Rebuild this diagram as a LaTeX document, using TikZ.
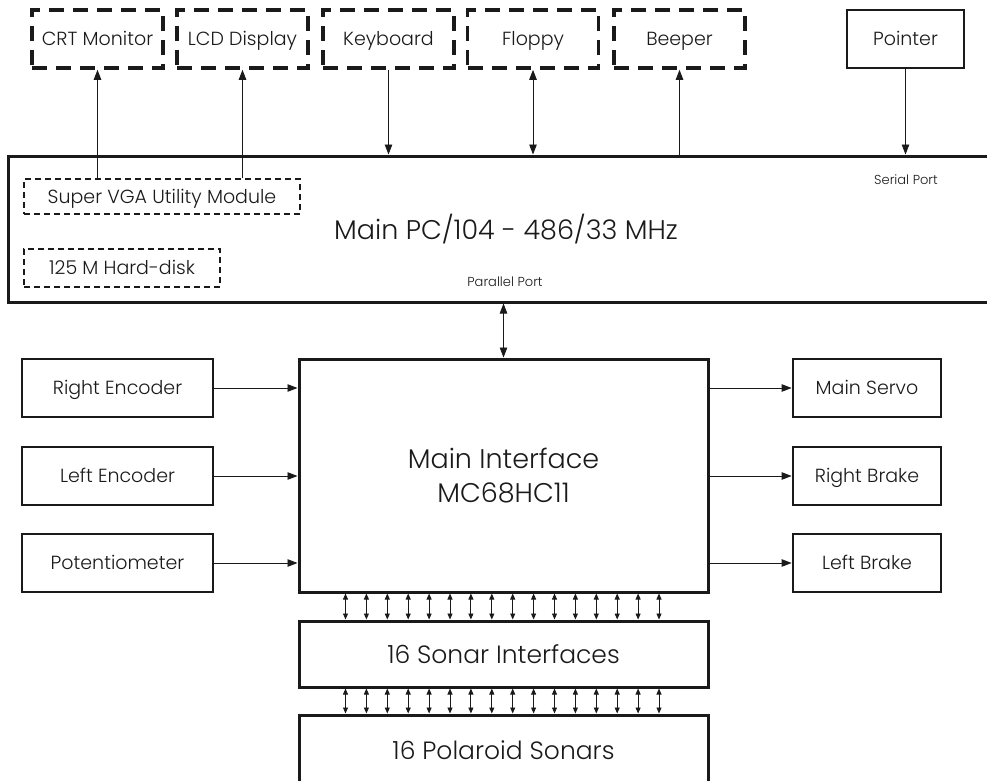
\documentclass[tikz,border=0pt]{standalone}
\usepackage{fontspec}
\setmainfont{Poppins}[UprightFont=* Light]
\usetikzlibrary{arrows.meta,calc}
\definecolor{ink}{HTML}{1A1A1A}

\begin{document}
\begin{tikzpicture}[
  x=1pt, y=-1pt, >={Triangle[length=10pt,width=7.5pt]},
  every node/.append style={text=ink, inner sep=0pt},
  blk/.style={draw=ink, line width=2.8pt, align=center, text height=13pt, text depth=0pt,
    font=\fontsize{19}{23}\selectfont},
  big/.style={draw=ink, line width=3pt, align=center, font=\fontsize{27}{34}\selectfont},
  ext/.style={draw=ink, line width=3.6pt, dash pattern=on 15pt off 9pt, align=center,
    text height=13pt, text depth=0pt, minimum width=131pt, minimum height=58pt,
    font=\fontsize{19}{23}\selectfont},
  card/.style={draw=ink, line width=1.5pt, dash pattern=on 6pt off 4pt, align=center,
    text height=13pt, text depth=0pt, font=\fontsize{19}{23}\selectfont},
  port/.style={font=\fontsize{13}{16}\selectfont},
  wire/.style={draw=ink, line width=0.9pt},
  bus/.style={draw=ink, line width=0.9pt, {Triangle[length=6pt,width=5pt]}-{Triangle[length=6pt,width=5pt]}},
]
\useasboundingbox (0,0) rectangle (987,780);
% peripherals
\node[ext] (crt) at (97.5,39) {CRT Monitor};
\node[ext] (lcd) at (242.5,39) {LCD Display};
\node[ext] (kbd) at (388.5,39) {Keyboard};
\node[ext] (fdd) at (533,39) {Floppy};
\node[ext] (beep) at (679.5,39) {Beeper};
\node[blk, minimum width=117pt, minimum height=58pt] (ptr) at (905.5,39) {Pointer};
% main PC board
\node[big, minimum width=996pt, minimum height=146pt] (pc) at (506,229) {Main PC/104 - 486/33 MHz};
\node[card, minimum width=276pt, minimum height=35pt] (vga) at (162,196.5) {Super VGA Utility Module};
\node[card, minimum width=196pt, minimum height=38pt] (hdd) at (122,268) {125 M Hard-disk};
\node[port] (par) at (505,282) {Parallel Port};
\node[port] (ser) at (906,180) {Serial Port};
% interface board
\node[big, minimum width=409pt, minimum height=233pt] (mif) at (503.5,475.5) {Main Interface\\MC68HC11};
\node[blk, minimum width=191pt, minimum height=58pt] (renc) at (117.5,388) {Right Encoder};
\node[blk, minimum width=191pt, minimum height=58pt] (lenc) at (117.5,476) {Left Encoder};
\node[blk, minimum width=191pt, minimum height=58pt] (pot) at (117.5,563) {Potentiometer};
\node[blk, minimum width=148pt, minimum height=58pt] (servo) at (867,388) {Main Servo};
\node[blk, minimum width=148pt, minimum height=58pt] (rbrk) at (867,476) {Right Brake};
\node[blk, minimum width=148pt, minimum height=58pt] (lbrk) at (867,563) {Left Brake};
% sonars
\node[big, minimum width=409pt, minimum height=66pt, font=\fontsize{25}{30}\selectfont] (sif) at (503.5,654) {16 Sonar Interfaces};
\node[big, minimum width=409pt, minimum height=70pt, font=\fontsize{25}{30}\selectfont] (son) at (503.5,750) {16 Polaroid Sonars};
% links to the PC
\draw[->, wire] (crt.south |- vga.north) -- (crt.south);
\draw[->, wire] (lcd.south |- vga.north) -- (lcd.south);
\draw[->, wire] (kbd.south) -- (kbd.south |- pc.north);
\draw[<->, wire] (fdd.south) -- (fdd.south |- pc.north);
\draw[->, wire] (beep.south |- pc.north) -- (beep.south);
\draw[->, wire] (ptr.south) -- (ptr.south |- pc.north);
\draw[<->, wire] (mif.north |- pc.south) -- (mif.north);
% sensors and actuators
\draw[->, wire] (renc) -- (renc -| mif.west);
\draw[->, wire] (lenc) -- (lenc -| mif.west);
\draw[->, wire] (pot) -- (pot -| mif.west);
\draw[->, wire] (mif.east |- servo) -- (servo);
\draw[->, wire] (mif.east |- rbrk) -- (rbrk);
\draw[->, wire] (mif.east |- lbrk) -- (lbrk);
% 16 channels
\foreach \i in {0,...,15}{
  \draw[bus] ([xshift=48pt+\i*20.9pt]mif.south west) -- ([xshift=48pt+\i*20.9pt]sif.north west);
  \draw[bus] ([xshift=48pt+\i*20.9pt]sif.south west) -- ([xshift=48pt+\i*20.9pt]son.north west);
}
\end{tikzpicture}
\end{document}
